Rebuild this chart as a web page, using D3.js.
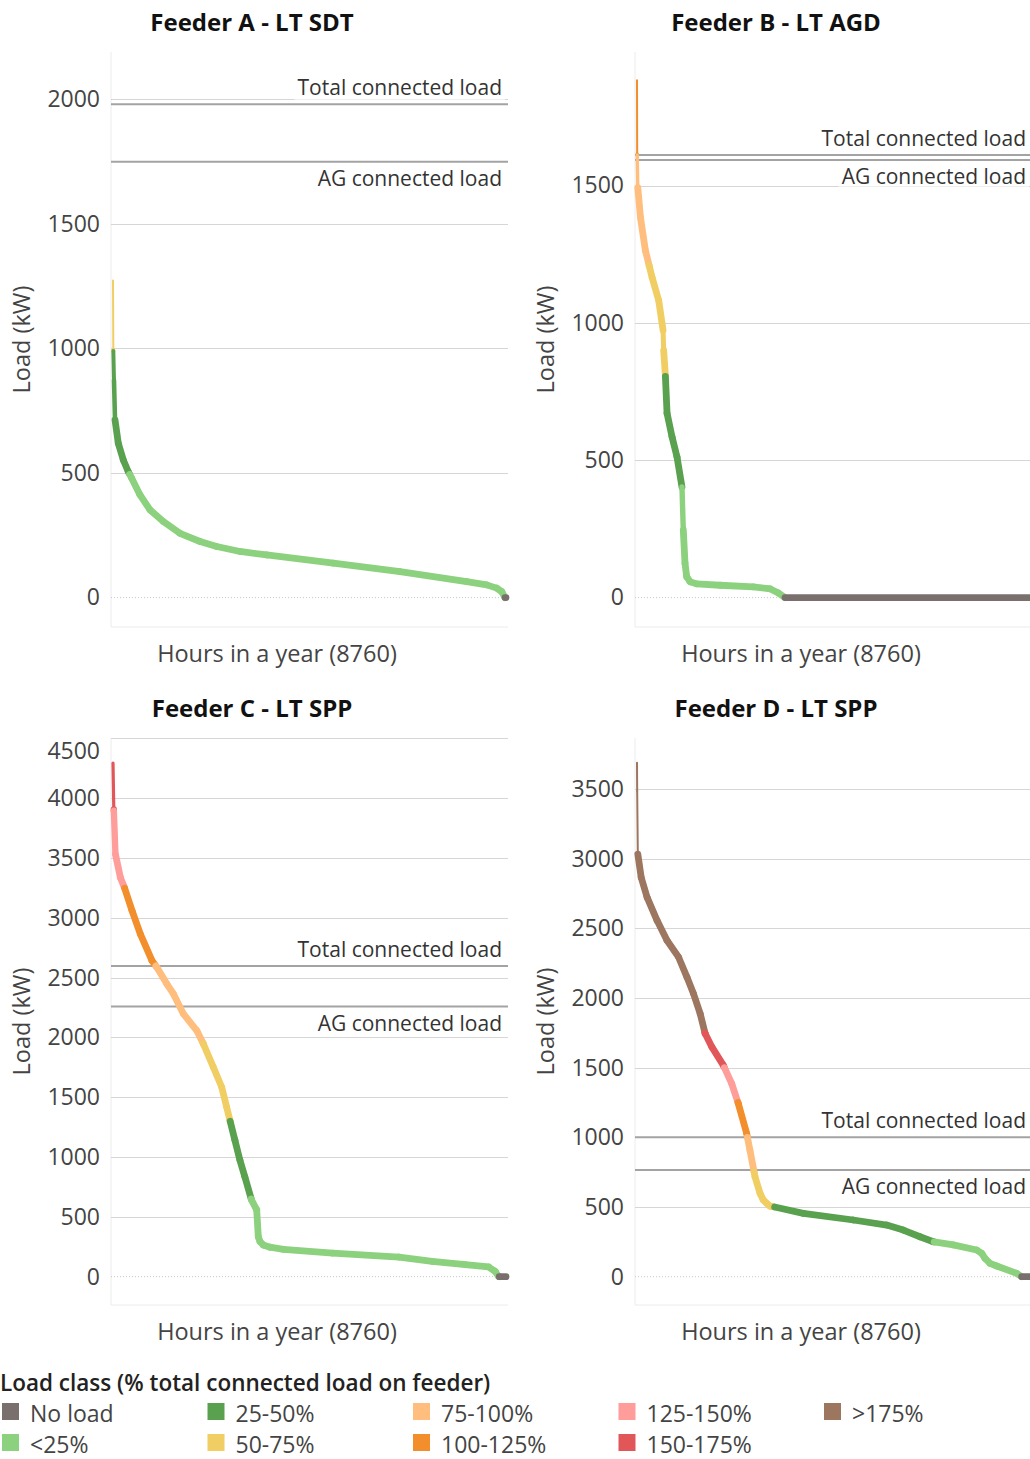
<!DOCTYPE html>
<html>
<head>
<meta charset="utf-8">
<script src="https://cdn.jsdelivr.net/npm/d3@7"></script>
<style>
  body { margin: 0; background: #fff; }
  svg { display: block; font-family: "Open Sans", sans-serif; }
</style>
</head>
<body>
<div id="chart"></div>
<script>
// load duration curves: [hour of year, load in kW]
const feederA = [[0,1272],[7,994],[22,873],[45,713],[118,619],[230,552],[341,505],[417,479],[602,412],[825,352],
  [1121,305],[1493,258],[1939,225],[2311,205],[2831,185],[3426,171],[4912,138],[6398,104],[7884,64],[8330,51],
  [8553,38],[8665,24],[8738,0],[8760,0]];
const feederB = [[0,1883],[4,1615],[18,1492],[78,1383],[188,1263],[337,1165],[483,1082],[581,973],[594,900],
  [632,809],[670,671],[781,585],[892,512],[1002,403],[1032,246],[1070,125],[1108,76],[1181,58],[1331,50],
  [1850,45],[2592,39],[2965,32],[3150,17],[3299,0],[8760,0]];
const feederC = [[0,4294],[18,3906],[55,3531],[166,3336],[255,3253],[426,3058],[610,2864],[869,2642],[980,2586],
  [1202,2447],[1348,2364],[1570,2197],[1867,2058],[2014,1947],[2235,1753],[2422,1586],[2533,1419],[2606,1308],
  [2717,1142],[2828,975],[2938,836],[3087,642],[3203,558],[3239,334],[3277,293],[3350,265],[3500,246],
  [3796,229],[4897,197],[6376,164],[7114,128],[7853,100],[8371,81],[8519,44],[8593,3],[8610,0],[8760,0]];
const feederD = [[0,3689],[4,3486],[18,3033],[93,2866],[226,2722],[448,2556],[670,2413],[927,2293],[1113,2150],
  [1260,2031],[1408,1888],[1519,1745],[1668,1649],[1925,1517],[2111,1386],[2258,1243],[2444,1029],[2517,909],
  [2630,718],[2742,599],[2815,550],[2891,527],[2965,507],[3039,502],[3707,455],[4822,407],[5566,371],
  [5936,335],[6308,287],[6605,251],[7050,228],[7572,192],[7684,168],[7757,132],[7869,96],[8018,77],
  [8464,24],[8575,0],[8760,0]];

const titles = ["Feeder A - LT SDT", "Feeder B - LT AGD", "Feeder C - LT SPP", "Feeder D - LT SPP"];
const totalLoad = [1979, 1611, 2598, 1000];   // kW
const agLoad = [1749, 1593, 2258, 766];       // kW
const yExtent = [[-118, 2189], [-107, 1986], [-237, 4504], [-203, 3866]];
const hoursInYear = 8760;

const classNames = ["No load", "<25%", "25-50%", "50-75%", "75-100%", "100-125%", "125-150%", "150-175%", ">175%"];
const classBreaks = [0.25, 0.5, 0.75, 1, 1.25, 1.5, 1.75];
const classColors = ["#79706e", "#8cd17d", "#59a14f", "#f1ce63", "#ffbe7d", "#f28e2b", "#ff9d9a", "#e15759", "#9d7660"];

const curves = [feederA, feederB, feederC, feederD];

const width = 1030, height = 1459;
const plotW = 397;
const plotLeft = [111, 635, 111, 635];
const plotTop = [52, 52, 738, 738];
const plotBottom = [627, 627, 1305, 1305];

const color = d3.scaleOrdinal().domain(d3.range(classNames.length)).range(classColors);

function classOf(v, total) {
  if (v <= 0) return 0;
  return 1 + d3.bisectRight(classBreaks, v / total);
}

// cut each segment where it crosses a class boundary so every piece has one colour
function pieces(points, total) {
  const cuts = [0].concat(classBreaks.map(b => b * total));
  const out = [];
  for (let i = 1; i < points.length; i++) {
    const [h0, v0] = points[i - 1], [h1, v1] = points[i];
    const lo = Math.min(v0, v1), hi = Math.max(v0, v1);
    const ts = cuts.filter(c => c > lo && c < hi).map(c => (c - v0) / (v1 - v0)).sort((a, b) => a - b);
    const stops = [0].concat(ts, [1]);
    for (let k = 1; k < stops.length; k++) {
      const a = stops[k - 1], b = stops[k];
      out.push({
        h0: h0 + (h1 - h0) * a, v0: v0 + (v1 - v0) * a,
        h1: h0 + (h1 - h0) * b, v1: v0 + (v1 - v0) * b,
        cls: classOf(v0 + (v1 - v0) * (a + b) / 2, total),
        seg: [h0, v0, h1, v1]
      });
    }
  }
  return out;
}

const svg = d3.select("#chart").append("svg")
  .attr("width", width)
  .attr("height", height);

curves.forEach((data, i) => {
  const left = plotLeft[i], top = plotTop[i], bottom = plotBottom[i];
  const g = svg.append("g");

  const x = d3.scaleLinear().domain([0, hoursInYear]).range([left + 2, left + plotW - 2]);
  const y = d3.scaleLinear().domain(yExtent[i]).range([bottom, top]);
  const ticks = d3.range(0, yExtent[i][1] + 1, 500);

  // pane borders
  g.append("line").attr("x1", left).attr("x2", left).attr("y1", top).attr("y2", bottom)
    .attr("stroke", "#ececec").attr("stroke-width", 1);
  g.append("line").attr("x1", left).attr("x2", left + plotW).attr("y1", bottom).attr("y2", bottom)
    .attr("stroke", "#ececec").attr("stroke-width", 1);

  // gridlines
  g.selectAll(".grid").data(ticks.filter(t => t > 0)).join("line")
    .attr("class", "grid")
    .attr("x1", left).attr("x2", left + plotW)
    .attr("y1", d => Math.round(y(d)) + 0.5).attr("y2", d => Math.round(y(d)) + 0.5)
    .attr("stroke", "#d6d6d6").attr("stroke-width", 1.2);
  g.append("line")
    .attr("x1", left).attr("x2", left + plotW)
    .attr("y1", y(0)).attr("y2", y(0))
    .attr("stroke", "#c8c8c8").attr("stroke-width", 1).attr("stroke-dasharray", "1,2");

  // y axis
  const yAxis = g.append("g")
    .attr("transform", `translate(${left},0)`)
    .call(d3.axisLeft(y).tickValues(ticks).tickSize(0).tickPadding(11).tickFormat(d3.format("d")));
  yAxis.select(".domain").remove();
  yAxis.selectAll(".tick text")
    .attr("font-size", 23).attr("font-family", "Open Sans").attr("fill", "#444")
    .attr("y", d => Math.max(0, top + 13.5 - y(d)));

  // reference lines with labels
  const refs = [
    { v: totalLoad[i], label: "Total connected load", above: true },
    { v: agLoad[i], label: "AG connected load", above: false }
  ];
  refs.forEach(r => {
    const ry = y(r.v);
    g.append("line")
      .attr("x1", left).attr("x2", left + plotW)
      .attr("y1", ry).attr("y2", ry)
      .attr("stroke", "#a3a3a3").attr("stroke-width", 2);
    const base = r.above ? ry - 9 : ry + 9 + 15;
    const bg = g.append("rect").attr("fill", "#fff").attr("fill-opacity", 0.6);
    const txt = g.append("text")
      .attr("x", left + plotW - 6).attr("y", base)
      .attr("text-anchor", "end")
      .attr("font-size", 21).attr("fill", "#333")
      .text(r.label);
    const bb = txt.node().getBBox();
    bg.attr("x", bb.x - 3).attr("y", base - 17).attr("width", bb.width + 6).attr("height", 22);
  });

  // load duration curve, coloured by load class
  const parts = pieces(data, totalLoad[i]);
  g.append("g").selectAll("line").data(parts).join("line")
    .attr("x1", d => x(d.h0)).attr("y1", d => y(d.v0))
    .attr("x2", d => x(d.h1)).attr("y2", d => y(d.v1))
    .attr("stroke", d => color(d.cls))
    .attr("stroke-linecap", "round")
    .attr("stroke-width", d => {
      const dx = Math.abs(x(d.seg[2]) - x(d.seg[0]));
      const dy = Math.abs(y(d.seg[3]) - y(d.seg[1]));
      const r = dy > 0 ? dx / dy : 1;
      return 2 + 4.8 * Math.max(0, Math.min(1, (r - 0.01) / 0.03));
    });

  // titles
  g.append("text")
    .attr("x", left + 141).attr("y", top - 21)
    .attr("text-anchor", "middle")
    .attr("font-size", 24).attr("font-weight", "bold").attr("fill", "#111")
    .text(titles[i]);
  g.append("text")
    .attr("x", left + 166).attr("y", bottom + 35)
    .attr("text-anchor", "middle")
    .attr("font-size", 23.5).attr("fill", "#444")
    .text("Hours in a year (8760)");
  g.append("text")
    .attr("transform", `translate(${left - 81},${(top + bottom) / 2}) rotate(-90)`)
    .attr("text-anchor", "middle")
    .attr("font-size", 23.5).attr("fill", "#444")
    .text("Load (kW)");
});

// legend
const legend = svg.append("g");
legend.append("text")
  .attr("x", 0).attr("y", 1391)
  .attr("font-size", 22.5).attr("font-weight", 600).attr("fill", "#222")
  .text("Load class (% total connected load on feeder)");

const item = legend.selectAll(".legend-item")
  .data(classNames)
  .join("g")
  .attr("class", "legend-item")
  .attr("transform", (d, k) => `translate(${2 + 205.5 * Math.floor(k / 2)},${1403 + 31 * (k % 2)})`);
item.append("rect")
  .attr("width", 17).attr("height", 17)
  .attr("fill", (d, k) => color(k));
item.append("text")
  .attr("x", 28).attr("y", 18.5)
  .attr("font-size", 23).attr("fill", "#444")
  .text(d => d);
</script>
</body>
</html>
